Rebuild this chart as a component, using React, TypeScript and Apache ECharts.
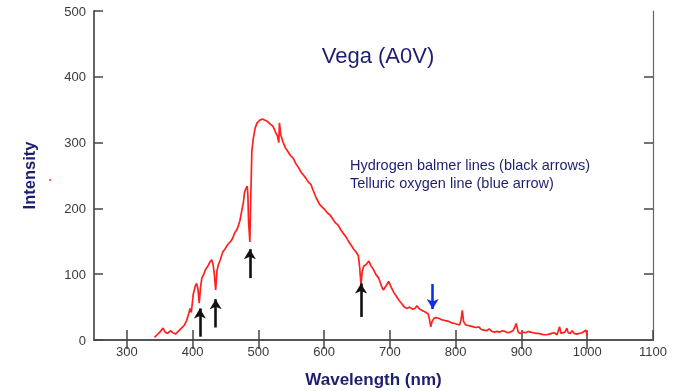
import React, { useEffect, useRef } from "react";
import * as echarts from "echarts";

const wavelengths = [342,346,350,355,358,362,366,370,374,378,383,387,391,394,396,398,401,404,406,408,410,412,414,417,419,423,426,429,431,433,435,437,439,442,446,449,452,455,458,461,464,467,470,472,475,477,479,481,483,484,485,487,488,490,492,495,498,502,506,510,514,518,522,526,529,531,532,534,537,541,545,549,553,557,561,565,569,572,576,580,583,587,590,593,597,601,605,609,613,617,621,625,629,633,637,641,645,649,652,654,656,658,660,664,668,671,675,679,683,687,690,694,698,702,706,710,714,718,722,726,730,734,738,741,745,749,753,756,758,760,762,764,767,770,774,778,782,786,790,794,798,802,806,808,810,812,815,819,823,827,831,835,839,843,847,851,855,859,863,867,871,875,879,883,887,890,892,895,898,902,906,910,914,918,922,926,930,934,938,942,946,950,954,956,958,960,963,966,969,971,974,977,980,984,988,992,995,998,1000];
const intensity = [4,8,12,18,12,10,14,11,9,13,18,22,30,40,48,42,70,82,86,78,56,80,94,100,106,112,118,122,115,100,76,105,114,122,134,138,143,147,150,155,163,167,175,182,198,208,225,230,234,220,180,149,200,286,305,322,330,334,336,334,332,328,325,316,310,300,330,312,302,292,286,280,276,268,262,255,250,246,240,236,228,218,212,206,202,198,193,190,184,178,175,168,162,157,150,144,138,133,128,110,84,105,112,115,120,113,107,99,94,82,76,82,89,80,72,66,60,55,50,48,50,47,48,52,47,45,43,41,40,32,20,28,33,34,33,31,30,29,28,26,25,24,23,30,45,28,23,22,21,20,19,20,16,15,14,17,13,12,13,12,14,13,11,12,14,20,25,12,10,12,11,13,12,11,10,10,9,8,8,9,10,11,8,14,20,10,11,12,18,11,10,14,10,9,10,11,13,15,6];

const xTicks = [300, 400, 500, 600, 700, 800, 900, 1000, 1100];
const topTicks = [300, 400, 500, 600, 700, 800, 900, 1000];
const rightTicks = [100, 200, 300, 400];

// Balmer lines (black arrows) and telluric O2 line (blue arrow): [wavelength, tail, head]
const balmerArrows = [
  [411, 5, 48],
  [435, 19, 62],
  [487, 94, 138],
  [656, 35, 86],
];
const oxygenArrow = [765, 85, 47];

const titleText = "Vega (A0V)";
const noteLines = ["Hydrogen balmer lines (black arrows)", "Telluric oxygen line (blue arrow)"];

export default function App() {
  const ref = useRef<HTMLDivElement>(null);
  useEffect(() => {
    if (!ref.current) return;
    const chart = echarts.init(ref.current, undefined, { renderer: "svg" });
    const navy = "#1e1e6e";
    const font = "Liberation Sans, Arial, sans-serif";
    const markData: any[] = balmerArrows.map(([x, a, b]) => [
      { coord: [x, a], lineStyle: { color: "#111", width: 2.6, type: "solid" } },
      { coord: [x, b] },
    ]);
    markData.push([
      { coord: [oxygenArrow[0], oxygenArrow[1]], lineStyle: { color: "#1030e0", width: 2.6, type: "solid" } },
      { coord: [oxygenArrow[0], oxygenArrow[2]] },
    ]);
    chart.setOption({
      animation: false,
      grid: { left: 94, right: 20, top: 11, bottom: 51, outerBoundsMode: "none" },
      xAxis: [
        {
          type: "value",
          min: 250,
          max: 1100,
          position: "bottom",
          name: "Wavelength (nm)",
          nameLocation: "middle",
          nameGap: 31,
          nameTextStyle: { color: navy, fontSize: 17, fontWeight: "bold", fontFamily: font },
          axisLine: { lineStyle: { color: "#555", width: 2 } },
          axisTick: { inside: true, length: 10, customValues: xTicks, lineStyle: { color: "#444", width: 1.5 } },
          axisLabel: {
            customValues: xTicks,
            color: "#3a3a3a",
            fontSize: 13,
            fontFamily: font,
            margin: 5,
            formatter: (v: number) => String(v),
          },
          splitLine: { show: false },
        },
        {
          type: "value",
          min: 250,
          max: 1100,
          position: "top",
          axisLine: { show: true, lineStyle: { color: "#555", width: 1.2 } },
          axisTick: { inside: true, length: 9, customValues: topTicks, lineStyle: { color: "#444", width: 1.5 } },
          axisLabel: { show: false },
          splitLine: { show: false },
        },
      ],
      yAxis: [
        {
          type: "value",
          min: 0,
          max: 500,
          interval: 100,
          position: "left",
          name: "Intensity",
          nameLocation: "middle",
          nameGap: 57,
          nameTextStyle: { color: navy, fontSize: 16.5, fontWeight: "bold", fontFamily: font },
          axisLine: { show: true, lineStyle: { color: "#666", width: 2 } },
          axisTick: { inside: true, length: 9, lineStyle: { color: "#444", width: 1.5 } },
          axisLabel: { color: "#3a3a3a", fontSize: 13, fontFamily: font, margin: 8 },
          splitLine: { show: false },
        },
        {
          type: "value",
          min: 0,
          max: 500,
          position: "right",
          axisLine: { show: true, lineStyle: { color: "#666", width: 1.2 } },
          axisTick: { inside: true, length: 9, customValues: rightTicks, lineStyle: { color: "#444", width: 1.5 } },
          axisLabel: { show: false },
          splitLine: { show: false },
        },
      ],
      graphic: [
        {
          type: "text",
          x: 378,
          y: 55,
          style: { text: titleText, fill: navy, font: `22px ${font}`, align: "center", verticalAlign: "middle" },
        },
        {
          type: "text",
          x: 350,
          y: 156,
          style: { text: noteLines.join("\n"), fill: navy, font: `14.5px ${font}`, lineHeight: 17.7 },
        },
        { type: "circle", shape: { cx: 50, cy: 180, r: 1 }, style: { fill: "#ff4040" } },
      ],
      series: [
        {
          type: "line",
          data: wavelengths.map((w, i) => [w, intensity[i]]),
          showSymbol: false,
          lineStyle: { color: "#ff2020", width: 1.7 },
          silent: true,
          markLine: {
            silent: true,
            symbol: ["none", "arrow"],
            symbolSize: [9, 10],
            label: { show: false },
            emphasis: { disabled: true },
            lineStyle: { type: "solid" },
            data: markData,
          },
        },
      ],
    });
    return () => chart.dispose();
  }, []);
  return <div ref={ref} style={{ position: "fixed", left: 0, top: 0, width: 673, height: 391 }} />;
}
